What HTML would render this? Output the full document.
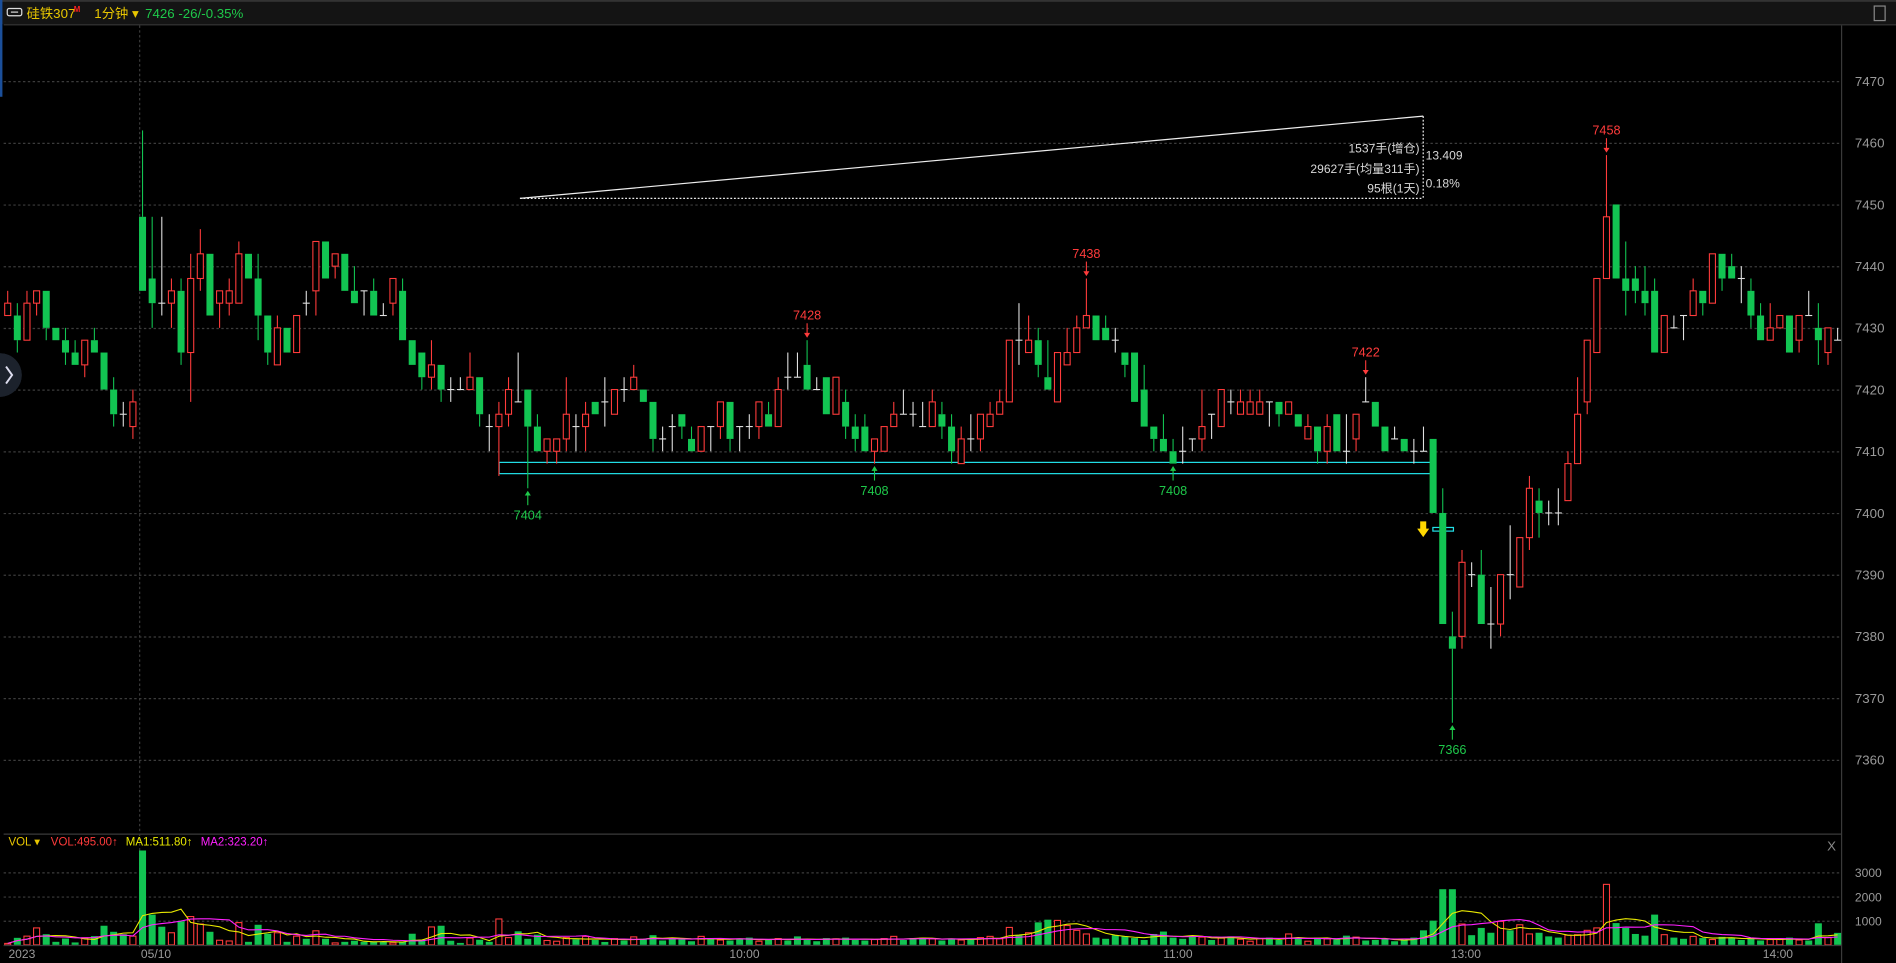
<!DOCTYPE html>
<html><head><meta charset="utf-8"><style>
html,body{margin:0;padding:0;background:#000;overflow:hidden}
svg{display:block}
text{font-family:"Liberation Sans","Noto Sans CJK SC",sans-serif}
</style></head><body>
<svg id="chart" width="1896" height="963" viewBox="0 0 1568 796" preserveAspectRatio="none" xmlns="http://www.w3.org/2000/svg">
<rect x="0" y="0" width="1568" height="796" fill="#000"/>
<g>
<rect x="0" y="0" width="1568" height="20" fill="#141414"/>
<rect x="0" y="0" width="1568" height="1.5" fill="#333"/>
<line x1="3" y1="20.5" x2="1568" y2="20.5" stroke="#3a3a3a" stroke-width="1"/>
<rect x="6" y="7" width="12" height="6" rx="1.5" fill="none" stroke="#ddd" stroke-width="1"/>
<line x1="9" y1="10" x2="15" y2="10" stroke="#ddd" stroke-width="1"/>
<text x="22" y="15" font-size="11" fill="#e8c600">硅铁307</text>
<text x="61" y="10" font-size="6.5" fill="#ff2020" font-weight="bold">M</text>
<text x="78" y="15" font-size="11" fill="#e8c600">1分钟 ▾</text>
<text x="120" y="15" font-size="11" fill="#1ec84a">7426  -26/-0.35%</text>
<rect x="1550" y="5" width="9" height="12" fill="none" stroke="#888" stroke-width="1"/>
</g>
<rect x="0" y="0" width="2" height="80" fill="#1b4f9a"/>
<line x1="1523" y1="21" x2="1523" y2="796" stroke="#3a3a3a" stroke-width="1"/>
<g id="grid"></g>
<g id="vgrid"></g>
<line x1="115.5" y1="21" x2="115.5" y2="783" stroke="#3a3a3a" stroke-dasharray="2,2"/>
<g id="drawings">
<polyline points="430,164 1177,96" stroke="#eee" stroke-width="1" fill="none"/>
<line x1="430" y1="164" x2="1177" y2="164" stroke="#eee" stroke-width="1" stroke-dasharray="1.5,1.5"/>
<line x1="1177" y1="96" x2="1177" y2="164" stroke="#eee" stroke-width="1" stroke-dasharray="1.5,1.5"/>
<text x="1174" y="126" font-size="10" fill="#d8d8d8" text-anchor="end">1537手(增仓)</text>
<text x="1174" y="143" font-size="10" fill="#d8d8d8" text-anchor="end">29627手(均量311手)</text>
<text x="1174" y="159" font-size="10" fill="#d8d8d8" text-anchor="end">95根(1天)</text>
<text x="1179" y="132" font-size="10" fill="#d8d8d8">13.409</text>
<text x="1179" y="155" font-size="10" fill="#d8d8d8">0.18%</text>
<rect x="412.8" y="382.2" width="772.2" height="9.3" fill="none" stroke="#22e0e8" stroke-width="1"/>
<rect x="1185" y="436" width="17" height="3" fill="none" stroke="#22e0e8" stroke-width="1"/>
<polygon points="1174.5,431 1179.5,431 1179.5,437 1182,437 1177,444 1172,437 1174.5,437" fill="#ffd800"/>
</g>
<g id="candles"></g>
<g id="annots"></g>
<g id="vol"></g>
<g id="axis"></g>
<line x1="3" y1="689.5" x2="1523" y2="689.5" stroke="#3a3a3a" stroke-width="1"/>
<g>
<text x="7" y="699" font-size="9.5" fill="#e8c600">VOL ▾</text>
<text x="42" y="699" font-size="9.5" fill="#ff3b3b">VOL:495.00↑</text>
<text x="104" y="699" font-size="9.5" fill="#e8e800">MA1:511.80↑</text>
<text x="166" y="699" font-size="9.5" fill="#ff20ff">MA2:323.20↑</text>
<text x="1511" y="703" font-size="11" fill="#888">X</text>
</g>
<g>
<path d="M-10,292 A18,18 0 0 1 -10,328 Z M-10,292 L0,292 A18,18 0 0 1 0,328 L-10,328 Z" fill="#1c222c"/>
<circle cx="0" cy="310" r="18" fill="#1c222c"/>
<polyline points="5,303 10,310 5,317" fill="none" stroke="#dde" stroke-width="1.6"/>
</g>
</svg>
<script>
const opens=[7432,7432,7428,7434,7436,7430,7428,7426,7424,7428,7426,7420,7416,7414,7448,7438,7434,7434,7436,7426,7438,7442,7434,7434,7434,7442,7438,7432,7424,7430,7426,7434,7436,7444,7440,7442,7436,7436,7436,7432,7434,7436,7428,7426,7422,7424,7420,7420,7420,7422,7414,7414,7416,7418,7420,7414,7410,7410,7412,7414,7414,7418,7418,7416,7420,7420,7420,7418,7412,7414,7416,7412,7410,7414,7414,7418,7414,7414,7414,7416,7414,7422,7422,7424,7420,7422,7416,7418,7414,7414,7410,7410,7414,7416,7416,7414,7414,7416,7414,7408,7412,7412,7414,7416,7418,7428,7426,7428,7422,7418,7424,7426,7430,7432,7430,7428,7426,7426,7420,7414,7412,7410,7410,7412,7412,7416,7414,7418,7416,7416,7416,7418,7418,7416,7416,7412,7414,7410,7416,7410,7412,7418,7418,7414,7412,7412,7410,7410,7412,7400,7380,7380,7390,7390,7382,7382,7390,7388,7396,7402,7400,7400,7402,7408,7418,7426,7438,7450,7438,7438,7436,7436,7426,7430,7432,7432,7436,7434,7442,7440,7438,7436,7432,7428,7430,7432,7428,7432,7430,7426,7428];
const highs=[7436,7434,7436,7436,7436,7430,7430,7428,7428,7430,7426,7422,7418,7420,7462,7448,7448,7438,7438,7442,7446,7442,7436,7438,7444,7442,7442,7432,7432,7430,7432,7436,7444,7444,7442,7442,7440,7436,7438,7434,7438,7438,7428,7426,7428,7424,7422,7422,7426,7422,7416,7418,7422,7426,7420,7416,7412,7412,7422,7416,7418,7418,7422,7420,7422,7424,7420,7418,7414,7416,7416,7414,7414,7414,7418,7418,7414,7416,7418,7418,7422,7426,7426,7428,7422,7422,7422,7420,7416,7416,7412,7414,7418,7420,7418,7418,7420,7418,7416,7414,7416,7416,7418,7420,7428,7434,7432,7430,7428,7426,7430,7432,7438,7432,7432,7430,7426,7426,7424,7414,7416,7412,7414,7412,7420,7416,7420,7420,7420,7420,7420,7418,7418,7418,7416,7416,7414,7416,7416,7416,7416,7422,7418,7414,7414,7412,7412,7414,7412,7404,7384,7394,7392,7394,7388,7390,7398,7396,7406,7404,7402,7404,7410,7422,7428,7438,7458,7450,7444,7440,7440,7438,7432,7432,7432,7438,7436,7442,7442,7442,7440,7438,7434,7434,7432,7432,7432,7436,7434,7430,7430];
const lows=[7432,7426,7428,7432,7428,7428,7424,7424,7422,7426,7420,7414,7414,7412,7436,7430,7432,7430,7424,7418,7436,7432,7430,7432,7434,7438,7428,7424,7424,7426,7426,7432,7432,7438,7438,7436,7434,7432,7432,7432,7432,7428,7424,7420,7420,7418,7418,7420,7420,7414,7410,7406,7414,7418,7404,7410,7408,7408,7410,7410,7410,7416,7414,7416,7418,7420,7418,7410,7410,7410,7412,7410,7410,7410,7412,7410,7410,7412,7412,7414,7414,7420,7422,7420,7420,7416,7416,7412,7410,7410,7408,7410,7414,7416,7414,7414,7414,7412,7408,7408,7410,7410,7414,7416,7418,7424,7426,7422,7420,7418,7424,7426,7430,7428,7428,7426,7422,7418,7414,7410,7410,7408,7408,7410,7410,7412,7414,7416,7416,7416,7416,7414,7414,7416,7414,7412,7408,7408,7410,7408,7410,7418,7414,7410,7412,7410,7408,7410,7400,7382,7366,7378,7388,7382,7378,7380,7386,7388,7394,7396,7398,7398,7402,7408,7416,7426,7438,7438,7432,7434,7432,7426,7426,7430,7428,7432,7432,7434,7436,7438,7434,7430,7428,7428,7430,7426,7426,7432,7424,7424,7428];
const closes=[7434,7428,7434,7436,7430,7428,7426,7424,7428,7426,7420,7416,7416,7418,7436,7434,7434,7436,7426,7438,7442,7432,7436,7436,7442,7438,7432,7426,7430,7426,7432,7434,7444,7438,7442,7436,7434,7436,7432,7432,7438,7428,7424,7422,7424,7420,7420,7420,7422,7416,7414,7416,7420,7418,7414,7410,7412,7412,7416,7414,7416,7416,7418,7420,7420,7422,7418,7412,7412,7414,7414,7410,7414,7414,7418,7412,7414,7414,7418,7414,7420,7422,7422,7420,7420,7416,7422,7414,7412,7410,7412,7414,7416,7416,7416,7414,7418,7414,7410,7412,7412,7416,7416,7418,7428,7428,7428,7424,7420,7426,7426,7430,7432,7428,7428,7428,7424,7418,7414,7412,7410,7408,7410,7412,7414,7416,7420,7418,7418,7418,7418,7418,7416,7418,7414,7414,7410,7414,7410,7410,7416,7418,7414,7410,7412,7410,7410,7410,7400,7382,7378,7392,7390,7382,7382,7390,7390,7396,7404,7400,7400,7400,7408,7416,7428,7438,7448,7438,7436,7436,7434,7426,7432,7430,7432,7436,7434,7442,7438,7438,7438,7432,7428,7430,7432,7426,7432,7432,7428,7430,7428];
const volumes=[60,290,360,700,440,125,260,100,290,360,790,540,440,360,3900,1250,750,500,970,1170,860,540,190,160,920,125,830,460,500,125,360,250,580,250,80,125,170,125,125,125,80,125,460,220,740,790,170,80,280,210,125,1070,
300,560,250,420,180,150,300,230,350,200,120,260,180,330,250,400,180,300,220,150,350,260,200,180,250,300,150,220,260,180,350,200,150,280,250,300,200,180,220,260,350,200,280,300,250,180,230,200,260,
300,350,250,720,400,500,930,1040,1010,800,600,
450,300,250,400,350,280,200,450,550,300,250,380,320,200,280,350,230,150,260,300,200,450,280,150,300,250,220,380,320,180,200,240,150,200,300,600,
1000,2300,2300,
860,400,700,500,970,600,830,450,500,350,300,400,420,600,700,
2500,900,700,450,380,1250,420,300,250,350,280,220,330,300,200,250,180,220,260,300,200,180,890,300,495];
const priceTicks=[7470,7460,7450,7440,7430,7420,7410,7400,7390,7380,7370,7360];
const volTicks=[3000,2000,1000];
const timeLabels=["05/10","10:00","11:00","13:00","14:00"];
const timeIdx=[15.4,76.5,121.5,151.4,183.8];
const annotIdx=[166,112,83,141,54,90,121,150];
const annotPrice=[7458,7438,7428,7422,7404,7408,7408,7366];
const annotTop=[true,true,true,true,false,false,false,false];

const NS="http://www.w3.org/2000/svg";
function xOf(i){return 6.37+7.965*i;}
function yOf(p){return 67+(7470-p)*5.1;}
function vOf(v){return 781-v*0.02;}
function mk(tag,attrs,parent){const e=document.createElementNS(NS,tag);for(const k in attrs)e.setAttribute(k,attrs[k]);parent.appendChild(e);return e;}
const RED="#ff3b3b",GREEN="#12c452",WHITE="#e0e0e0";
const grid=document.getElementById('grid'),vgrid=document.getElementById('vgrid'),cg=document.getElementById('candles'),vg=document.getElementById('vol'),ag=document.getElementById('axis'),an=document.getElementById('annots');
priceTicks.forEach(p=>{
  const y=Math.round(yOf(p))+0.5;
  const l=mk('line',{x1:3,y1:y,x2:1523,y2:y,stroke:'#3c3c3c','stroke-dasharray':'2,2'},grid);
  
  
  const t=mk('text',{x:1534,y:yOf(p)+4,'font-size':11,fill:'#9a9a9a'},ag);
  t.textContent=p;
  
  
});
volTicks.forEach(v=>{
  const y=Math.round(vOf(v))+0.5;
  const l=mk('line',{x1:3,y1:y,x2:1523,y2:y,stroke:'#3c3c3c','stroke-dasharray':'2,2'},vgrid);
  
  
  const t=mk('text',{x:1534,y:vOf(v)+4,'font-size':10,fill:'#9a9a9a'},ag);
  t.textContent=v;
  
  
});
const base=mk('line',{x1:3,y1:781.5,x2:1523,y2:781.5,stroke:'#3a3a3a'},ag);


const t0=mk('text',{x:7,y:792,'font-size':10,fill:'#9a9a9a'},ag);
t0.textContent="2023";


timeLabels.forEach((s,k)=>{
  const t=mk('text',{x:xOf(timeIdx[k]),y:792,'font-size':10,fill:'#9a9a9a','text-anchor':'middle'},ag);
  t.textContent=s;
  
  
});
const W=5.8;
for(let i=0;i<closes.length;i++){
  const o=opens[i],c=closes[i],h=highs[i],l=lows[i];
  const x=xOf(i);
  const col=c>o?RED:(c<o?GREEN:WHITE);
  const g=mk('g',{},cg);
  
  
  const top=yOf(Math.max(o,c)),bot=yOf(Math.min(o,c));
  mk('line',{x1:x,y1:yOf(h),x2:x,y2:top,stroke:col,'stroke-width':0.9},g);
  mk('line',{x1:x,y1:bot,x2:x,y2:yOf(l),stroke:col,'stroke-width':0.9},g);
  if(c>o){mk('rect',{x:x-W/2+0.4,y:top,width:W-0.8,height:bot-top,fill:'#000',stroke:RED,'stroke-width':0.9},g);}
  else if(c<o){mk('rect',{x:x-W/2,y:top,width:W,height:bot-top,fill:GREEN},g);}
  else{mk('line',{x1:x-W/2,y1:top,x2:x+W/2,y2:top,stroke:WHITE,'stroke-width':0.9},g);}
  const vy=vOf(volumes[i]);
  let b;
  if(c>o){b=mk('rect',{x:x-W/2+0.4,y:vy,width:W-0.8,height:781-vy,fill:'#000',stroke:RED,'stroke-width':0.9},vg);}
  else{b=mk('rect',{x:x-W/2,y:vy,width:W,height:781-vy,fill:GREEN},vg);}
  
  
}
function maLine(n,color,name){
  let pts=[];
  for(let i=0;i<volumes.length;i++){let s=0,k=0;for(let j=Math.max(0,i-n+1);j<=i;j++){s+=volumes[j];k++;}pts.push(xOf(i).toFixed(1)+','+vOf(s/k).toFixed(1));}
  const pl=mk('polyline',{points:pts.join(' '),fill:'none',stroke:color,'stroke-width':0.9},vg);
  
  
}
maLine(5,'#e8e800','volume-ma1-line');
maLine(10,'#ff20ff','volume-ma2-line');
annotIdx.forEach((i,k)=>{
  const x=xOf(i),p=annotPrice[k],y=yOf(p);
  const col=annotTop[k]?RED:'#1ec84a';
  const g=mk('g',{},an);
  
  
  if(annotTop[k]){
    mk('line',{x1:x,y1:y-14,x2:x,y2:y-3,stroke:col,'stroke-width':0.9},g);
    mk('polygon',{points:(x-2.5)+','+(y-6)+' '+(x+2.5)+','+(y-6)+' '+x+','+(y-2)},g).setAttribute('fill',col);
    const t=mk('text',{x:x,y:y-17,'font-size':10.5,fill:col,'text-anchor':'middle'},g);t.textContent=p;
  }else{
    mk('line',{x1:x,y1:y+3,x2:x,y2:y+14,stroke:col,'stroke-width':0.9},g);
    mk('polygon',{points:(x-2.5)+','+(y+6)+' '+(x+2.5)+','+(y+6)+' '+x+','+(y+2)},g).setAttribute('fill',col);
    const t=mk('text',{x:x,y:y+26,'font-size':10.5,fill:col,'text-anchor':'middle'},g);t.textContent=p;
  }
});
</script>
</body></html>
